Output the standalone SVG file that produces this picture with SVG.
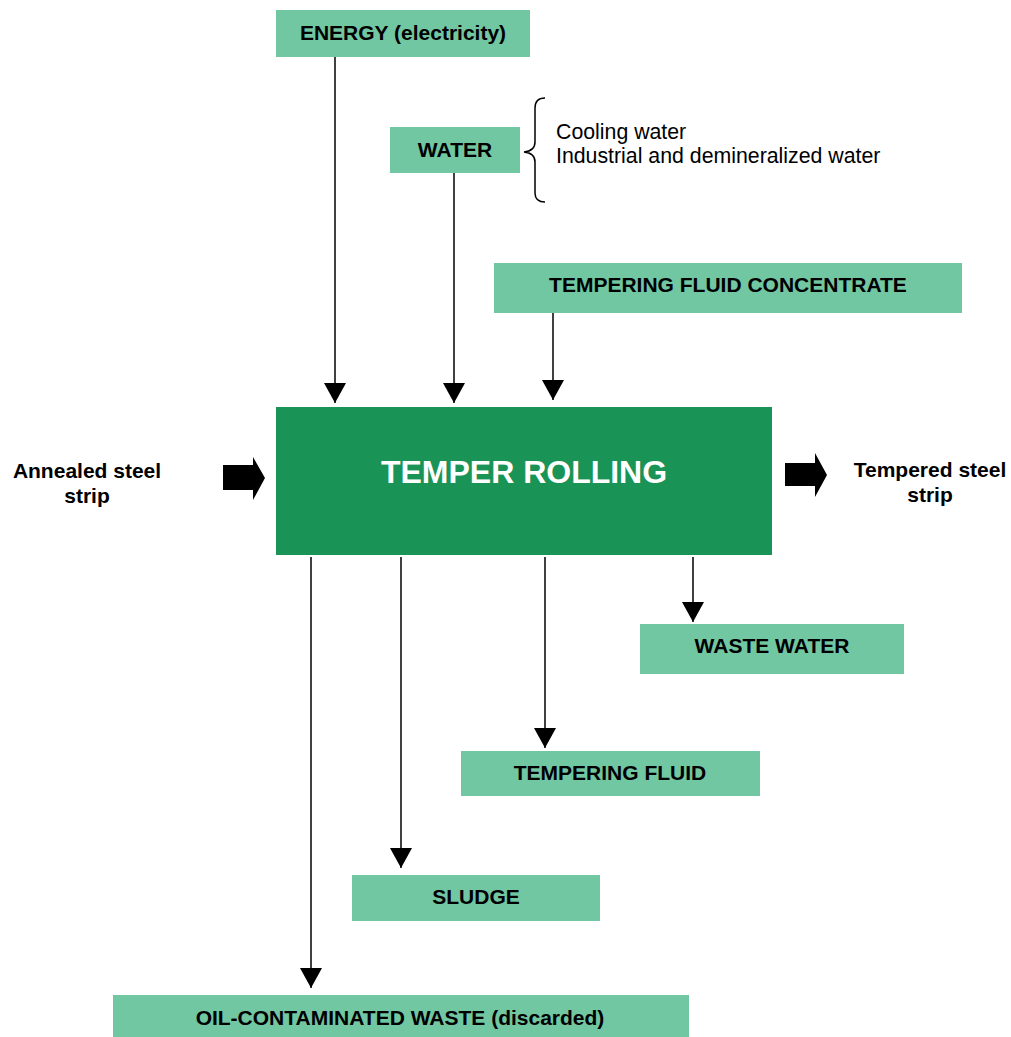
<svg xmlns="http://www.w3.org/2000/svg" width="1011" height="1037" viewBox="0 0 1011 1037">
  <defs>
    <style>
      .box { fill: #71c7a1; }
      .main { fill: #199456; }
      .lbl { font-family: "Liberation Sans", Arial, sans-serif; font-weight: bold; font-size: 21px; fill: #000; text-anchor: middle; }
      .note { font-family: "Liberation Sans", Arial, sans-serif; font-size: 21.3px; fill: #000; }
      .title { font-family: "Liberation Sans", Arial, sans-serif; font-weight: bold; font-size: 32px; fill: #fff; text-anchor: middle; }
      .flow { stroke: #000; stroke-width: 1.5; fill: none; }
      .block { fill: #000; }
    </style>
    <marker id="head" viewBox="0 0 20 22" refX="20" refY="11" markerWidth="20" markerHeight="22" markerUnits="userSpaceOnUse" orient="auto">
      <path d="M0,0 L20,11 L0,22 Z" fill="#000"/>
    </marker>
  </defs>

  <rect width="1011" height="1037" fill="#fff"/>

  <g id="energy">
    <rect class="box" x="276" y="10" width="254" height="47"/>
    <text class="lbl" x="403" y="40">ENERGY (electricity)</text>
  </g>

  <g id="water">
    <rect class="box" x="390" y="127" width="130" height="46"/>
    <text class="lbl" x="455" y="157">WATER</text>
    <path class="flow" d="M545,98 Q535,98 535,108 L535,142 Q535,151 524,152 Q535,153 535,162 L535,193 Q535,202 545,202"/>
    <text class="note" x="556" y="139">Cooling water</text>
    <text class="note" x="556" y="163">Industrial and demineralized water</text>
  </g>

  <g id="concentrate">
    <rect class="box" x="494" y="263" width="468" height="50"/>
    <text class="lbl" x="728" y="292">TEMPERING FLUID CONCENTRATE</text>
  </g>

  <g id="temper-rolling">
    <rect class="main" x="276" y="407" width="496" height="148"/>
    <text class="title" x="524" y="483">TEMPER ROLLING</text>
  </g>

  <g id="annealed-strip">
    <text class="lbl" x="87" y="478">Annealed steel</text>
    <text class="lbl" x="87" y="503">strip</text>
  </g>

  <g id="tempered-strip">
    <text class="lbl" x="930" y="477">Tempered steel</text>
    <text class="lbl" x="930" y="502">strip</text>
  </g>

  <g id="waste-water">
    <rect class="box" x="640" y="624" width="264" height="50"/>
    <text class="lbl" x="772" y="653">WASTE WATER</text>
  </g>

  <g id="tempering-fluid">
    <rect class="box" x="461" y="751" width="299" height="45"/>
    <text class="lbl" x="610" y="780">TEMPERING FLUID</text>
  </g>

  <g id="sludge">
    <rect class="box" x="352" y="875" width="248" height="46"/>
    <text class="lbl" x="476" y="904">SLUDGE</text>
  </g>

  <g id="oil-waste">
    <rect class="box" x="113" y="995" width="576" height="42"/>
    <text class="lbl" x="400" y="1025">OIL-CONTAMINATED WASTE (discarded)</text>
  </g>

  <g id="connectors">
    <line class="flow" x1="335" y1="57" x2="335" y2="403" marker-end="url(#head)"/>
    <line class="flow" x1="454" y1="173" x2="454" y2="403" marker-end="url(#head)"/>
    <line class="flow" x1="553" y1="313" x2="553" y2="400" marker-end="url(#head)"/>
    <line class="flow" x1="693" y1="557" x2="693" y2="622" marker-end="url(#head)"/>
    <line class="flow" x1="545" y1="557" x2="545" y2="748" marker-end="url(#head)"/>
    <line class="flow" x1="401" y1="557" x2="401" y2="868" marker-end="url(#head)"/>
    <line class="flow" x1="311" y1="557" x2="311" y2="988" marker-end="url(#head)"/>
    <path class="block" d="M223,465 L253,465 L253,457 L265,478 L253,500 L253,490 L223,490 Z"/>
    <path class="block" d="M785,463 L815,463 L815,453 L827,475 L815,497 L815,486 L785,486 Z"/>
  </g>
</svg>
